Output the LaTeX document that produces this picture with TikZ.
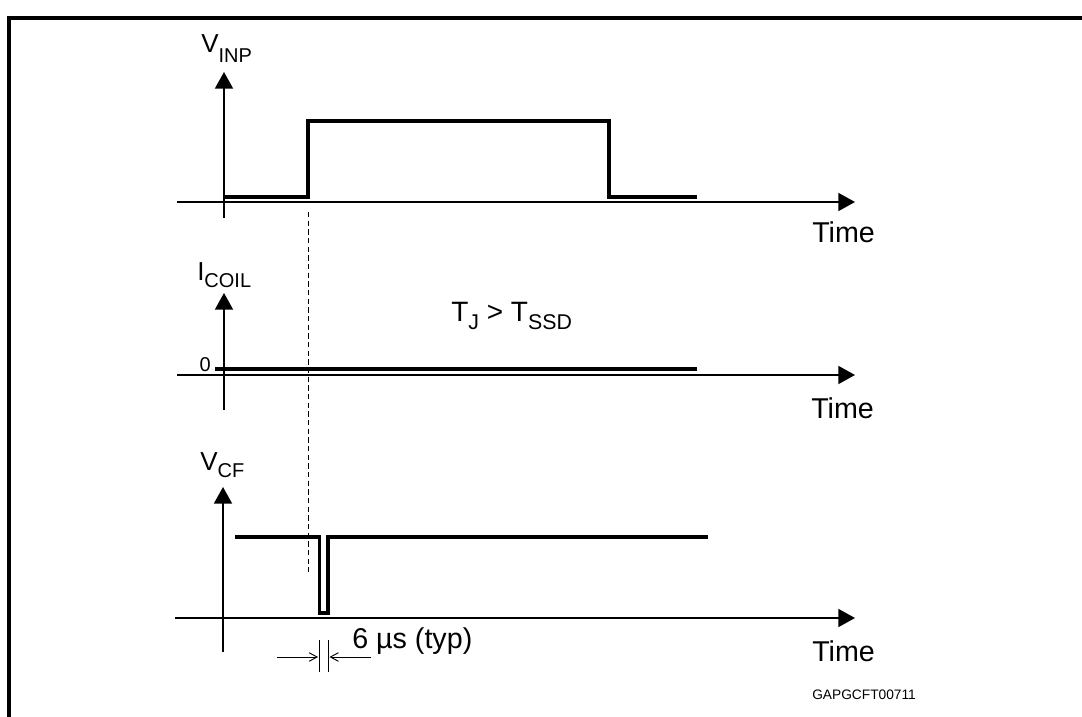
\documentclass[tikz,border=0pt]{standalone}
\usepackage{fontspec}
\setmainfont{Liberation Sans}
\usetikzlibrary{arrows.meta}
\begin{document}
\begin{tikzpicture}[x=0.75pt,y=-0.75pt,
  axisline/.style={line width=1.4pt,-{Triangle[length=12.5pt,width=13.5pt]}},
  signal/.style={line width=2.3pt,line join=miter},
  frameline/.style={line width=2.3pt},
  guide/.style={line width=0.7pt,dash pattern=on 4pt off 2.5pt},
  dimline/.style={line width=0.7pt},
  dimarrow/.style={line width=0.7pt,-{Straight Barb[length=6pt,width=6.5pt]}},
  lbl/.style={inner sep=0pt,anchor=base west},
  timelbl/.style={inner sep=0pt,anchor=base west,font=\fontsize{21.5}{24}\selectfont},
]
\useasboundingbox (0,0) rectangle (1082,717);
% frame
\draw[frameline] (1090,18) -- (9,18) -- (9,730);

% ---- V_INP panel
\coordinate (a1b) at (224,218); \coordinate (a1t) at (224,72);
\coordinate (h1l) at (177,202); \coordinate (h1r) at (855,202);
\draw[axisline] (a1b) -- (a1t);
\draw[axisline] (h1l) -- (h1r);
\draw[signal] (224,197) -- (308,197) -- (308,121) -- (609,121) -- (609,197) -- (697,197);
\node[lbl] (vinp) at (201,53) {\fontsize{19.5}{20}\selectfont V\raisebox{-7.5pt}{\fontsize{15}{16}\selectfont INP}};
\node[timelbl] (time1) at (812,242) {Time};

% ---- I_COIL panel
\coordinate (a2b) at (224,410); \coordinate (a2t) at (224,293);
\coordinate (h2l) at (177,375); \coordinate (h2r) at (855,375);
\draw[axisline] (a2b) -- (a2t);
\draw[axisline] (h2l) -- (h2r);
\draw[signal] (215,369) -- (697,369);
\node[lbl] (icoil) at (197,280) {\fontsize{19.5}{20}\selectfont I\raisebox{-5.5pt}{\fontsize{15}{16}\selectfont COIL}};
\node[inner sep=0pt,anchor=base east,font=\fontsize{15}{16}\selectfont] (zero) at (211,371) {0};
\node[lbl] (tj) at (451,321) {\fontsize{21}{22}\selectfont T\raisebox{-6pt}{\fontsize{16}{17}\selectfont J} {>} T\raisebox{-6pt}{\fontsize{16}{17}\selectfont SSD}};
\node[timelbl] (time2) at (811,418) {Time};

% ---- V_CF panel
\coordinate (a3b) at (223,652); \coordinate (a3t) at (223,487);
\coordinate (h3l) at (175,618); \coordinate (h3r) at (855,618);
\draw[axisline] (a3b) -- (a3t);
\draw[axisline] (h3l) -- (h3r);
\draw[signal] (235,537) -- (319.5,537) -- (319.5,613) -- (328,613) -- (328,537) -- (708,537);
\node[lbl] (vcf) at (200,470) {\fontsize{19.5}{20}\selectfont V\raisebox{-5.5pt}{\fontsize{15}{16}\selectfont CF}};
\node[timelbl] (time3) at (812,661) {Time};

% dashed guide
\coordinate (g1) at (308,212); \coordinate (g2) at (308,572);
\draw[guide] (g1) -- (g2);

% 6 us dimension
\coordinate (d1t) at (319,640); \coordinate (d1b) at (319,672);
\coordinate (d2t) at (328.5,640); \coordinate (d2b) at (328.5,672);
\draw[dimline] (d1t) -- (d1b);
\draw[dimline] (d2t) -- (d2b);
\coordinate (la) at (277,657); \coordinate (lb) at (318,657);
\coordinate (ra) at (371,657); \coordinate (rb) at (329.5,657);
\draw[dimarrow] (la) -- (lb);
\draw[dimarrow] (ra) -- (rb);
\node[timelbl] (dim) at (352,648) {6 µs (typ)};

\node[inner sep=0pt,anchor=base west,font=\fontsize{10.3}{12}\selectfont] (code) at (812,699) {GAPGCFT00711};
\end{tikzpicture}
\end{document}
